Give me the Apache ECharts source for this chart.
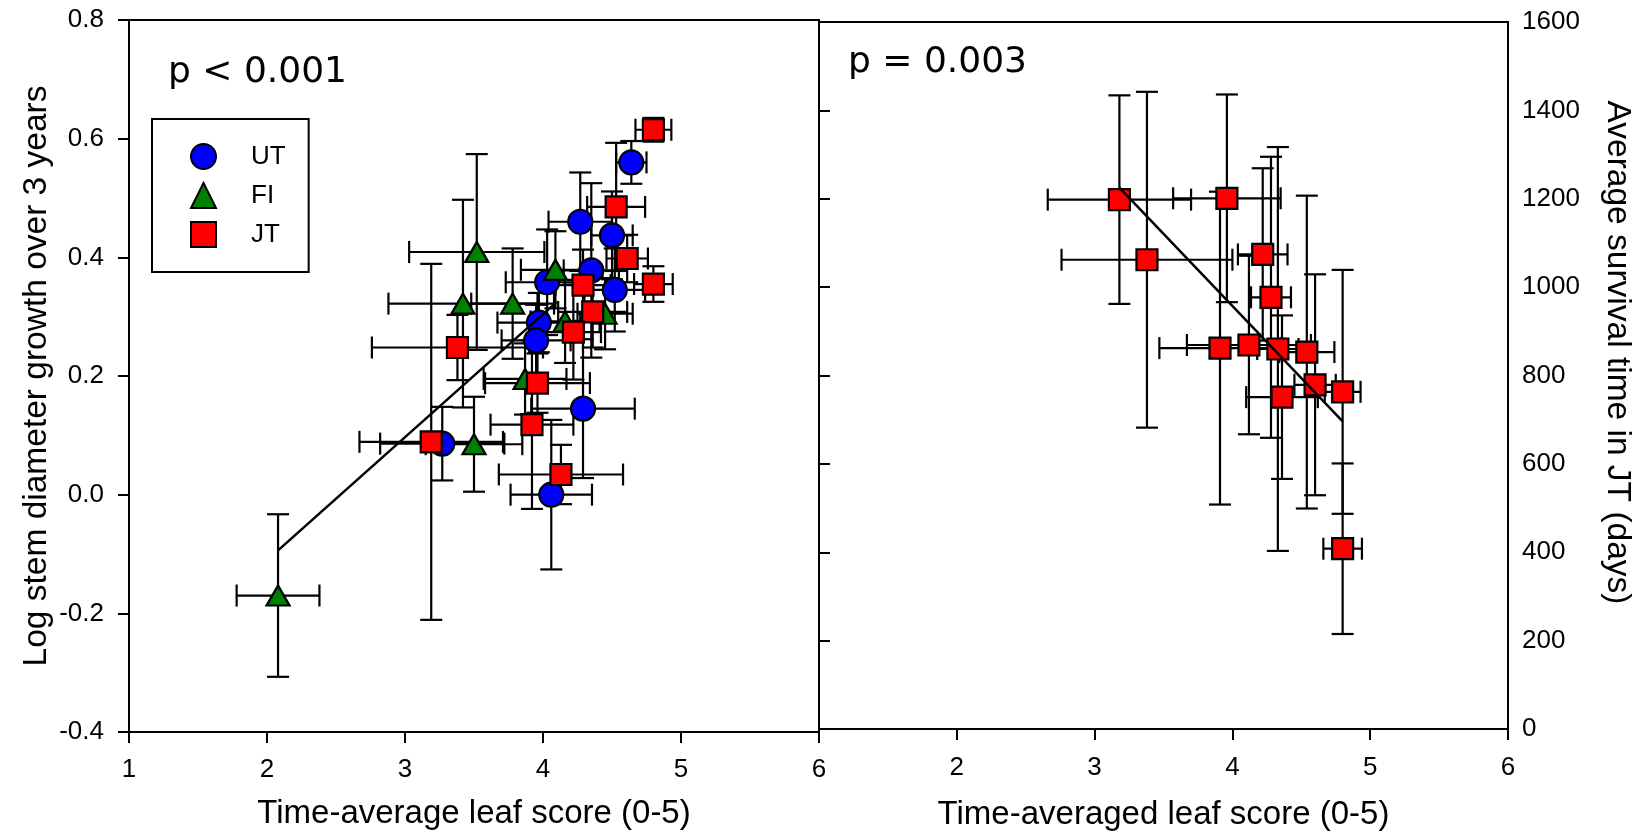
<!DOCTYPE html>
<html>
<head>
<meta charset="utf-8">
<script src="https://cdn.jsdelivr.net/npm/echarts@6/dist/echarts.min.js"></script>
<style>
  html, body { margin: 0; padding: 0; background: #fff; }
  #chart { width: 1649px; height: 836px; }
</style>
</head>
<body>
<div id="chart"></div>
<script>
// Left panel: stem growth vs time-averaged leaf score, three sites
const utX    = [4.64, 4.27, 4.50, 4.35, 4.03, 4.52, 3.97, 3.95, 4.29, 3.27, 4.06];
const utY    = [0.560, 0.460, 0.437, 0.378, 0.358, 0.345, 0.290, 0.260, 0.145, 0.086, 0.000];
const utXErr = [0.11, 0.23, 0.15, 0.20, 0.30, 0.22, 0.30, 0.25, 0.375, 0.45, 0.295];
const utYErr = [0.036, 0.083, 0.074, 0.147, 0.089, 0.07, 0.05, 0.06, 0.117, 0.062, 0.126];

const fiX    = [2.08, 3.42, 3.52, 3.78, 4.09, 4.16, 3.87, 3.50, 4.45];
const fiY    = [-0.170, 0.322, 0.409, 0.322, 0.379, 0.292, 0.195, 0.085, 0.305];
const fiXErr = [0.30, 0.54, 0.49, 0.30, 0.25, 0.25, 0.30, 0.35, 0.20];
const fiYErr = [0.137, 0.175, 0.165, 0.093, 0.065, 0.07, 0.06, 0.08, 0.06];

const jtX    = [4.80, 4.53, 4.61, 4.80, 4.29, 4.36, 4.22, 3.38, 3.96, 3.92, 3.19, 4.13];
const jtY    = [0.615, 0.485, 0.398, 0.355, 0.353, 0.308, 0.274, 0.248, 0.188, 0.118, 0.089, 0.034];
const jtXErr = [0.13, 0.21, 0.15, 0.14, 0.20, 0.25, 0.20, 0.62, 0.38, 0.30, 0.52, 0.45];
const jtYErr = [0.02, 0.108, 0.04, 0.03, 0.06, 0.06, 0.08, 0.055, 0.05, 0.142, 0.30, 0.05];

const fitLeftX = [2.08, 4.10];
const fitLeftY = [-0.094, 0.325];

// Right panel: survival time in JT vs time-averaged leaf score
const survX    = [3.18, 3.38, 3.96, 4.22, 4.28, 3.91, 4.12, 4.33, 4.54, 4.36, 4.60, 4.80, 4.80];
const survY    = [1198, 1062, 1201, 1074, 977, 862, 869, 860, 853, 751, 779, 763, 408];
const survXErr = [0.52, 0.62, 0.39, 0.18, 0.145, 0.44, 0.45, 0.15, 0.20, 0.26, 0.15, 0.13, 0.14];
const survYErr = [236, 380, 235, 195, 318, 354, 202, 457, 354, 185, 250, 276, 193];

const fitRightX = [3.18, 4.80];
const fitRightY = [1225, 696];

const leafTicks = [1, 2, 3, 4, 5, 6];

const FONT = "'Liberation Sans', Arial, sans-serif";
const BLUE = '#0000ff', GREEN = '#008000', RED = '#ff0000';

function pairs(xs, ys) { return xs.map((x, i) => [x, ys[i]]); }

function errorBars(name, xs, ys, xe, ye, axisIdx, yIdx) {
  return {
    type: 'custom',
    name: name + ' error',
    xAxisIndex: axisIdx,
    yAxisIndex: yIdx,
    silent: true,
    data: xs.map((x, i) => [x, ys[i], xe[i], ye[i]]),
    encode: { x: 0, y: 1 },
    renderItem: function (params, api) {
      const x = api.value(0), y = api.value(1), dx = api.value(2), dy = api.value(3);
      const l = api.coord([x - dx, y]), r = api.coord([x + dx, y]);
      const t = api.coord([x, y + dy]), b = api.coord([x, y - dy]);
      const cap = 11;
      const style = { stroke: '#000', lineWidth: 2.2, fill: null };
      const seg = (x1, y1, x2, y2) => ({ type: 'line', shape: { x1, y1, x2, y2 }, style });
      return {
        type: 'group',
        children: [
          seg(l[0], l[1], r[0], r[1]),
          seg(l[0], l[1] - cap, l[0], l[1] + cap),
          seg(r[0], r[1] - cap, r[0], r[1] + cap),
          seg(t[0], t[1], b[0], b[1]),
          seg(t[0] - cap, t[1], t[0] + cap, t[1]),
          seg(b[0] - cap, b[1], b[0] + cap, b[1])
        ]
      };
    }
  };
}

function points(name, xs, ys, symbol, size, color, axisIdx, yIdx) {
  return {
    type: 'scatter',
    name: name,
    xAxisIndex: axisIdx,
    yAxisIndex: yIdx,
    symbol: symbol,
    symbolSize: size,
    itemStyle: { color: color, borderColor: '#000', borderWidth: 2.2, opacity: 1 },
    data: pairs(xs, ys)
  };
}

function fitLine(xs, ys, axisIdx, yIdx) {
  return {
    type: 'line',
    xAxisIndex: axisIdx,
    yAxisIndex: yIdx,
    data: pairs(xs, ys),
    showSymbol: false,
    silent: true,
    lineStyle: { color: '#000', width: 2.5 }
  };
}

const axisLine = { show: true, onZero: false, lineStyle: { color: '#000', width: 2 } };
const tickStyle = { color: '#000', width: 2 };
const labelStyle = { color: '#000', fontSize: 26, fontFamily: FONT };
const nameStyle = { color: '#000', fontSize: 33, fontFamily: FONT };

const chart = echarts.init(document.getElementById('chart'), null, { renderer: 'canvas' });

chart.setOption({
  backgroundColor: '#fff',
  animation: false,
  title: [
    { text: 'p < 0.001', left: 163, top: 50,
      textStyle: { fontSize: 36, fontWeight: 'normal', color: '#000', fontFamily: "'DejaVu Sans', sans-serif" } },
    { text: 'p = 0.003', left: 843, top: 40,
      textStyle: { fontSize: 36, fontWeight: 'normal', color: '#000', fontFamily: "'DejaVu Sans', sans-serif" } }
  ],
  legend: {
    data: ['UT', 'FI', 'JT'],
    orient: 'vertical',
    left: 152, top: 119,
    padding: [24, 23, 24, 38],
    itemWidth: 25, itemHeight: 25, itemGap: 12,
    borderColor: '#000', borderWidth: 2,
    selectedMode: false,
    formatter: name => '{g|}' + name,
    textStyle: { fontSize: 26, color: '#000', fontFamily: FONT, lineHeight: 25,
      rich: { g: { width: 30 } } }
  },
  grid: [
    { left: 129, top: 20, width: 690, height: 712, show: true, borderColor: '#000', borderWidth: 2, backgroundColor: 'transparent' },
    { left: 819, top: 22, width: 689, height: 711, show: true, borderColor: '#000', borderWidth: 2, backgroundColor: 'transparent' }
  ],
  xAxis: [
    { gridIndex: 0, type: 'value', min: leafTicks[0], max: leafTicks[leafTicks.length - 1], interval: 1,
      axisLine: axisLine,
      axisTick: { show: true, length: 11, lineStyle: tickStyle },
      axisLabel: Object.assign({ margin: 25 }, labelStyle),
      splitLine: { show: false },
      name: 'Time-average leaf score (0-5)', nameLocation: 'middle', nameGap: 65, nameTextStyle: nameStyle },
    { gridIndex: 1, type: 'value', min: leafTicks[0], max: leafTicks[leafTicks.length - 1], interval: 1,
      axisLine: axisLine,
      axisTick: { show: true, length: 11, lineStyle: tickStyle },
      axisLabel: Object.assign({ margin: 26, formatter: v => (v === leafTicks[0] ? '' : String(v)) }, labelStyle),
      splitLine: { show: false },
      name: 'Time-averaged leaf score (0-5)', nameLocation: 'middle', nameGap: 69, nameTextStyle: nameStyle }
  ],
  yAxis: [
    { gridIndex: 0, type: 'value', min: -0.4, max: 0.8, interval: 0.2,
      axisLine: axisLine,
      axisTick: { show: true, length: 11, lineStyle: tickStyle },
      axisLabel: Object.assign({ margin: 25, formatter: v => v.toFixed(1) }, labelStyle),
      splitLine: { show: false },
      name: 'Log stem diameter growth over 3 years', nameLocation: 'middle', nameRotate: 90, nameGap: 75,
      nameTextStyle: Object.assign({}, nameStyle, { fontSize: 33.5 }) },
    { gridIndex: 1, type: 'value', position: 'right', min: 0, max: 1600, interval: 200,
      axisLine: axisLine,
      axisTick: { show: false },
      axisLabel: Object.assign({ margin: 14, formatter: v => String(v) }, labelStyle),
      splitLine: { show: false },
      name: 'Average survival time in JT (days)', nameLocation: 'middle', nameRotate: -90, nameGap: 92,
      nameTextStyle: Object.assign({}, nameStyle, { fontSize: 33.5, padding: [0, 46, 0, 0] }) },
    { gridIndex: 1, type: 'value', position: 'left', min: 0, max: 1600, interval: 200,
      axisLine: axisLine,
      axisTick: { show: true, inside: true, length: 11, lineStyle: tickStyle },
      axisLabel: { show: false },
      splitLine: { show: false } }
  ],
  series: [
    fitLine(fitLeftX, fitLeftY, 0, 0),
    errorBars('UT', utX, utY, utXErr, utYErr, 0, 0),
    points('UT', utX, utY, 'circle', 24, BLUE, 0, 0),
    errorBars('FI', fiX, fiY, fiXErr, fiYErr, 0, 0),
    points('FI', fiX, fiY, 'triangle', [23, 20], GREEN, 0, 0),
    errorBars('JT', jtX, jtY, jtXErr, jtYErr, 0, 0),
    points('JT', jtX, jtY, 'rect', 21, RED, 0, 0),
    fitLine(fitRightX, fitRightY, 1, 1),
    errorBars('JT survival', survX, survY, survXErr, survYErr, 1, 1),
    points('JT', survX, survY, 'rect', 21, RED, 1, 1)
  ]
});
</script>
</body>
</html>
